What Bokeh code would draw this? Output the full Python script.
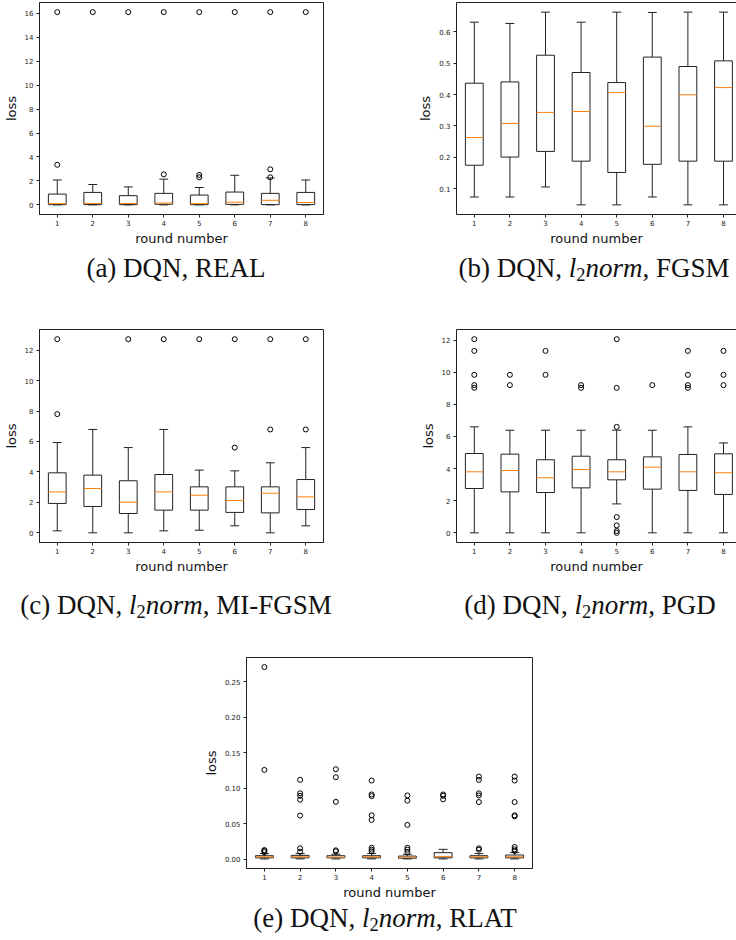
from bokeh.plotting import figure
from bokeh.models import FixedTicker, LinearAxis, Div, Spacer, Range1d, PrintfTickFormatter
from bokeh.layouts import column, row
from bokeh.embed import file_html
from bokeh.resources import INLINE

rounds = [1, 2, 3, 4, 5, 6, 7, 8]
round_labels = ["1", "2", "3", "4", "5", "6", "7", "8"]

# (a) DQN, REAL
a_q1 = [0.02, 0.02, 0.02, 0.05, 0.02, 0.04, 0.02, 0.02]
a_med = [0.10, 0.12, 0.12, 0.15, 0.10, 0.22, 0.38, 0.20]
a_q3 = [0.90, 1.04, 0.77, 0.96, 0.82, 1.07, 0.96, 1.04]
a_lo = [0.0, 0.0, 0.0, 0.0, 0.0, 0.0, 0.0, 0.0]
a_hi = [2.08, 1.70, 1.50, 2.15, 1.45, 2.47, 2.25, 2.08]
a_out = [[3.35, 16.1], [16.1], [16.1], [2.55, 16.1], [2.3, 2.5, 16.1], [16.1], [2.3, 2.97, 16.1], [16.1]]
a_yticks = [0, 2, 4, 6, 8, 10, 12, 14, 16]

# (b) DQN, l2norm, FGSM
b_q1 = [0.175, 0.201, 0.219, 0.188, 0.152, 0.178, 0.188, 0.188]
b_med = [0.263, 0.308, 0.343, 0.346, 0.406, 0.299, 0.399, 0.422]
b_q3 = [0.436, 0.440, 0.525, 0.470, 0.438, 0.519, 0.489, 0.507]
b_lo = [0.074, 0.074, 0.106, 0.049, 0.049, 0.074, 0.049, 0.049]
b_hi = [0.630, 0.626, 0.662, 0.630, 0.662, 0.661, 0.662, 0.662]
b_out = [[], [], [], [], [], [], [], []]
b_yticks = [0.1, 0.2, 0.3, 0.4, 0.5, 0.6]

# (c) DQN, l2norm, MI-FGSM
c_q1 = [1.93, 1.73, 1.27, 1.49, 1.49, 1.34, 1.31, 1.53]
c_med = [2.69, 2.91, 2.01, 2.69, 2.47, 2.12, 2.60, 2.36]
c_q3 = [3.94, 3.79, 3.42, 3.83, 3.02, 3.02, 3.02, 3.50]
c_lo = [0.13, 0.0, 0.0, 0.13, 0.17, 0.46, 0.0, 0.46]
c_hi = [5.93, 6.79, 5.60, 6.79, 4.12, 4.07, 4.60, 5.60]
c_out = [[7.8, 12.72], [], [12.72], [12.72], [12.72], [5.6, 12.72], [6.79, 12.72], [6.79, 12.72]]
c_yticks = [0, 2, 4, 6, 8, 10, 12]

# (d) DQN, l2norm, PGD
d_q1 = [2.76, 2.55, 2.51, 2.80, 3.30, 2.72, 2.64, 2.39]
d_med = [3.80, 3.88, 3.43, 3.94, 3.80, 4.09, 3.80, 3.74]
d_q3 = [4.94, 4.90, 4.55, 4.77, 4.55, 4.73, 4.88, 4.92]
d_lo = [0.0, 0.0, 0.0, 0.0, 1.80, 0.0, 0.0, 0.0]
d_hi = [6.60, 6.39, 6.39, 6.39, 6.39, 6.39, 6.60, 5.60]
d_out = [[9.03, 9.2, 9.84, 11.33, 12.06], [9.2, 9.84], [9.84, 11.33], [9.03, 9.2],
         [0.0, 0.12, 0.46, 0.98, 6.6, 9.03, 12.06], [9.2], [9.03, 9.2, 9.84, 11.33], [9.2, 9.84, 11.33]]
d_yticks = [0, 2, 4, 6, 8, 10, 12]

# (e) DQN, l2norm, RLAT
e_q1 = [0.0020, 0.0020, 0.0020, 0.0020, 0.0015, 0.0020, 0.0020, 0.0020]
e_med = [0.0035, 0.0035, 0.0030, 0.0035, 0.0030, 0.0040, 0.0035, 0.0035]
e_q3 = [0.0050, 0.0055, 0.0050, 0.0050, 0.0045, 0.0093, 0.0050, 0.0060]
e_lo = [0.0005, 0.0005, 0.0005, 0.0005, 0.0005, 0.0005, 0.0005, 0.0005]
e_hi = [0.0080, 0.0080, 0.0070, 0.0080, 0.0070, 0.0140, 0.0080, 0.0095]
e_out = [[0.010, 0.012, 0.013, 0.126, 0.271],
         [0.0107, 0.0154, 0.0616, 0.084, 0.0895, 0.093, 0.112],
         [0.0112, 0.0126, 0.081, 0.1157, 0.127],
         [0.0112, 0.0135, 0.0163, 0.0555, 0.062, 0.089, 0.0914, 0.111],
         [0.0103, 0.0135, 0.0163, 0.0485, 0.0826, 0.09],
         [0.0845, 0.0895, 0.0914],
         [0.0135, 0.0154, 0.0807, 0.09, 0.093, 0.112, 0.1166],
         [0.0117, 0.014, 0.0173, 0.0606, 0.062, 0.0807, 0.111, 0.1166]]
e_yticks = [0.0, 0.05, 0.10, 0.15, 0.20, 0.25]

captions = [
    "(a) DQN, REAL",
    "(b) DQN, <i>l</i><sub>2</sub><i>norm</i>, FGSM",
    "(c) DQN, <i>l</i><sub>2</sub><i>norm</i>, MI-FGSM",
    "(d) DQN, <i>l</i><sub>2</sub><i>norm</i>, PGD",
    "(e) DQN, <i>l</i><sub>2</sub><i>norm</i>, RLAT",
]

LINE = "#222222"
ORANGE = "#ff7f0e"
BOX_W = 0.5


def make_panel(q1, med, q3, lo, hi, out, yticks, width, height, bl, br, bt, bb,
               x_end=8.5, fmt=None, full_frame=True):
    vals = lo + hi + [v for o in out for v in o]
    dmin, dmax = min(vals), max(vals)
    pad = 0.05 * (dmax - dmin)
    p = figure(width=width, height=height, x_range=Range1d(0.5, x_end),
               y_range=Range1d(dmin - pad, dmax + pad), output_backend="svg",
               toolbar_location=None, min_border_left=bl, min_border_right=br,
               min_border_top=bt, min_border_bottom=bb)
    p.xgrid.visible = False
    p.ygrid.visible = False
    p.background_fill_color = "white"
    p.border_fill_color = "white"

    xa = p.below[0]
    ya = p.left[0]
    xa.ticker = FixedTicker(ticks=rounds)
    xa.major_label_overrides = {r: lab for r, lab in zip(rounds, round_labels)}
    ya.ticker = FixedTicker(ticks=yticks)
    if fmt:
        ya.formatter = PrintfTickFormatter(format=fmt)
    xa.axis_label = "round number"
    ya.axis_label = "loss"
    for ax in (xa, ya):
        ax.axis_line_color = LINE
        ax.major_tick_line_color = LINE
        ax.minor_tick_line_color = None
        ax.major_tick_in = 0
        ax.major_tick_out = 3
        ax.major_label_text_font = "DejaVu Sans"
        ax.major_label_text_font_size = "7px"
        ax.major_label_text_color = "#222222"
        ax.axis_label_text_font = "DejaVu Sans"
        ax.axis_label_text_font_size = "13px"
        ax.axis_label_text_font_style = "normal"
        ax.axis_label_text_color = "#111111"
    xa.major_label_standoff = 2
    xa.axis_label_standoff = 2
    ya.major_label_standoff = 3
    ya.axis_label_standoff = 3

    if full_frame:
        p.outline_line_color = LINE
        p.outline_line_width = 1
        p.outline_line_alpha = 1
    else:
        p.outline_line_color = None
        top = LinearAxis(ticker=FixedTicker(ticks=[]), axis_line_color=LINE,
                         major_tick_line_color=None, minor_tick_line_color=None,
                         major_label_text_font_size="0px", major_label_standoff=0,
                         major_tick_out=0, major_tick_in=0, axis_label=None)
        p.add_layout(top, "above")

    # whiskers
    p.segment(x0=rounds, y0=q3, x1=rounds, y1=hi, line_color=LINE, line_width=1)
    p.segment(x0=rounds, y0=q1, x1=rounds, y1=lo, line_color=LINE, line_width=1)
    # caps
    cl = [r - BOX_W / 4 for r in rounds]
    cr = [r + BOX_W / 4 for r in rounds]
    p.segment(x0=cl, y0=hi, x1=cr, y1=hi, line_color=LINE, line_width=1)
    p.segment(x0=cl, y0=lo, x1=cr, y1=lo, line_color=LINE, line_width=1)
    # boxes
    p.vbar(x=rounds, width=BOX_W, bottom=q1, top=q3, fill_color=None,
           line_color=LINE, line_width=1)
    # medians
    ml = [r - BOX_W / 2 for r in rounds]
    mr = [r + BOX_W / 2 for r in rounds]
    p.segment(x0=ml, y0=med, x1=mr, y1=med, line_color=ORANGE, line_width=1)
    # outliers
    ox = [r for r, o in zip(rounds, out) for _ in o]
    oy = [v for o in out for v in o]
    if ox:
        p.scatter(ox, oy, marker="circle", size=5, fill_color=None,
                  line_color="black", line_width=1)
    return p


pa = make_panel(a_q1, a_med, a_q3, a_lo, a_hi, a_out, a_yticks,
                370, 250, 37, 47, 1, 36)
pb = make_panel(b_q1, b_med, b_q3, b_lo, b_hi, b_out, b_yticks,
                366, 250, 86, 0, 2, 36, x_end=8.365, fmt="%.1f", full_frame=False)
pc = make_panel(c_q1, c_med, c_q3, c_lo, c_hi, c_out, c_yticks,
                370, 290, 37, 47, 39, 38)
pd_ = make_panel(d_q1, d_med, d_q3, d_lo, d_hi, d_out, d_yticks,
                 366, 290, 86, 0, 39, 38, x_end=8.365, full_frame=False)
pe = make_panel(e_q1, e_med, e_q3, e_lo, e_hi, e_out, e_yticks,
                340, 272, 46, 8, 27, 32, fmt="%.2f")

SUB = '<sub style="font-size:68%;vertical-align:-0.22em;line-height:0">'


def cap_html(items, height, lh):
    inner = ""
    for text, cx in items:
        text = text.replace("<sub>", SUB)
        inner += ('<div style="position:absolute;left:%dpx;top:0;transform:translateX(-50%%);'
                  'white-space:nowrap;line-height:%dpx;">%s</div>' % (cx, lh, text))
    return ('<div style="position:relative;width:736px;height:%dpx;'
            'font-family:\'Liberation Serif\',serif;font-size:27px;color:#111;">%s</div>'
            % (height, inner))


cap1 = Div(text=cap_html([(captions[0], 176), (captions[1], 594)], 40, 36),
           width=736, height=40, margin=0)
cap2 = Div(text=cap_html([(captions[2], 176), (captions[3], 590)], 50, 50),
           width=736, height=50, margin=0)
cap3 = Div(text=cap_html([(captions[4], 385)], 38, 32),
           width=736, height=38, margin=0)

layout = column(
    row(pa, pb),
    cap1,
    row(pc, pd_),
    cap2,
    row(Spacer(width=200, height=272), pe),
    cap3,
)

open("out.html", "w").write(file_html(layout, INLINE))
